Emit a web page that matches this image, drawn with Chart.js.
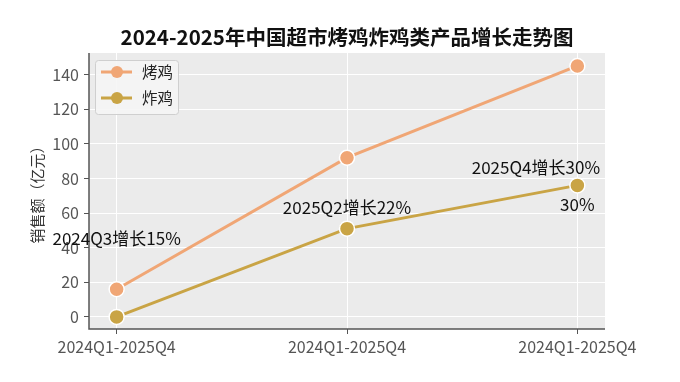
<!DOCTYPE html>
<html>
<head>
<meta charset="utf-8">
<script src="https://cdn.jsdelivr.net/npm/chart.js@4.4.1/dist/chart.umd.min.js"></script>
<style>
  html, body { margin:0; padding:0; background:#fff; }
  #wrap { width:680px; height:382px; position:relative; }
</style>
</head>
<body>
<div id="wrap"><canvas id="chart1"></canvas></div>
<script>
const titleText = "2024-2025年中国超市烤鸡炸鸡类产品增长走势图";
const xLabels = ["2024Q1-2025Q4","2024Q1-2025Q4","2024Q1-2025Q4"];
const kaoji = [16, 92, 145];
const zhaji = [0, 51, 76];
const yTicks = [0, 20, 40, 60, 80, 100, 120, 140];
const notes = [
  {text:"2024Q3增长15%", x:0, y:45},
  {text:"2025Q2增长22%", x:1, y:63},
  {text:"2025Q4增长30%", x:1.82, y:86.5},
  {text:"30%", x:2, y:65}
];

const FONT = "'Noto Sans CJK SC', 'Noto Sans', sans-serif";
const cKao = "#f0a675";
const cZha = "#c9a445";

const decor = {
  id:"decor",
  beforeDraw(chart){
    const {ctx, chartArea:a} = chart;
    ctx.save();
    ctx.fillStyle = "#ebebeb";
    ctx.fillRect(a.left, a.top, a.right-a.left, a.bottom-a.top);
    ctx.restore();
  },
  afterDatasetsDraw(chart){
    const {ctx, chartArea:a, scales} = chart;
    ctx.save();
    // axis lines
    ctx.strokeStyle = "#555";
    ctx.lineWidth = 1.5;
    ctx.beginPath();
    ctx.moveTo(a.left, a.top); ctx.lineTo(a.left, a.bottom); ctx.lineTo(a.right, a.bottom);
    ctx.stroke();
    // title
    ctx.fillStyle = "#111";
    ctx.font = "bold 20.5px " + FONT;
    ctx.textAlign = "center";
    ctx.textBaseline = "middle";
    ctx.fillText(titleText, 347, 37);
    // notes
    ctx.font = "17px " + FONT;
    ctx.fillStyle = "#111";
    notes.forEach(n=>{
      ctx.fillText(n.text, scales.x.getPixelForValue(n.x), scales.y.getPixelForValue(n.y));
    });
    // legend
    const lx = 95, ly = 60;
    ctx.fillStyle = "rgba(245,245,245,0.9)";
    ctx.strokeStyle = "#cfcfcf";
    ctx.lineWidth = 1;
    ctx.beginPath();
    ctx.roundRect(lx+0.5, ly+0.5, 83, 54, 3);
    ctx.fill(); ctx.stroke();
    [[cKao,"烤鸡"],[cZha,"炸鸡"]].forEach((it,i)=>{
      const y = ly + 12 + i*26;
      ctx.strokeStyle = it[0];
      ctx.lineWidth = 3;
      ctx.beginPath(); ctx.moveTo(lx+6, y); ctx.lineTo(lx+37, y); ctx.stroke();
      ctx.fillStyle = it[0];
      ctx.beginPath(); ctx.arc(lx+22, y, 6, 0, Math.PI*2); ctx.fill();
      ctx.fillStyle = "#222";
      ctx.font = "15.5px " + FONT;
      ctx.textAlign = "left";
      ctx.fillText(it[1], lx+47, y);
    });
    ctx.restore();
  }
};

function pts(arr){ return arr.map((v,i)=>({x:i, y:v})); }

new Chart(document.getElementById("chart1"),{
  type:"line",
  data:{datasets:[
    {label:"烤鸡", data:pts(kaoji), borderColor:cKao, backgroundColor:cKao, borderWidth:3,
     pointRadius:7.5, pointBorderColor:"#fff", pointBorderWidth:1.5, tension:0},
    {label:"炸鸡", data:pts(zhaji), borderColor:cZha, backgroundColor:cZha, borderWidth:3,
     pointRadius:7.5, pointBorderColor:"#fff", pointBorderWidth:1.5, tension:0}
  ]},
  options:{
    responsive:true, maintainAspectRatio:false, animation:false,
    layout:{padding:{left:0, right:75, top:53, bottom:0}},
    plugins:{legend:{display:false}, tooltip:{enabled:false}},
    scales:{
      x:{type:"linear", min:-0.12, max:2.12,
        afterBuildTicks:s=>{ s.ticks = xLabels.map((l,i)=>({value:i})); },
        afterFit:s=>{ s.height = 53; },
        border:{display:false},
        grid:{color:"#fff", lineWidth:1, tickColor:"#555", tickLength:5},
        ticks:{color:"#555", font:{family:FONT, size:16}, padding:3, maxRotation:0,
          callback:v=>xLabels[v]}
      },
      y:{min:-7, max:152.5,
        afterBuildTicks:s=>{ s.ticks = yTicks.map(v=>({value:v})); },
        afterFit:s=>{ s.width = 89; },
        border:{display:false},
        grid:{color:"#fff", lineWidth:1, tickColor:"#555", tickLength:5},
        ticks:{color:"#555", font:{family:FONT, size:16}, padding:5},
        title:{display:true, text:"销售额（亿元）", color:"#333",
          font:{family:FONT, size:15}, padding:{top:28, bottom:0}}
      }
    }
  },
  plugins:[decor]
});
</script>
</body>
</html>
